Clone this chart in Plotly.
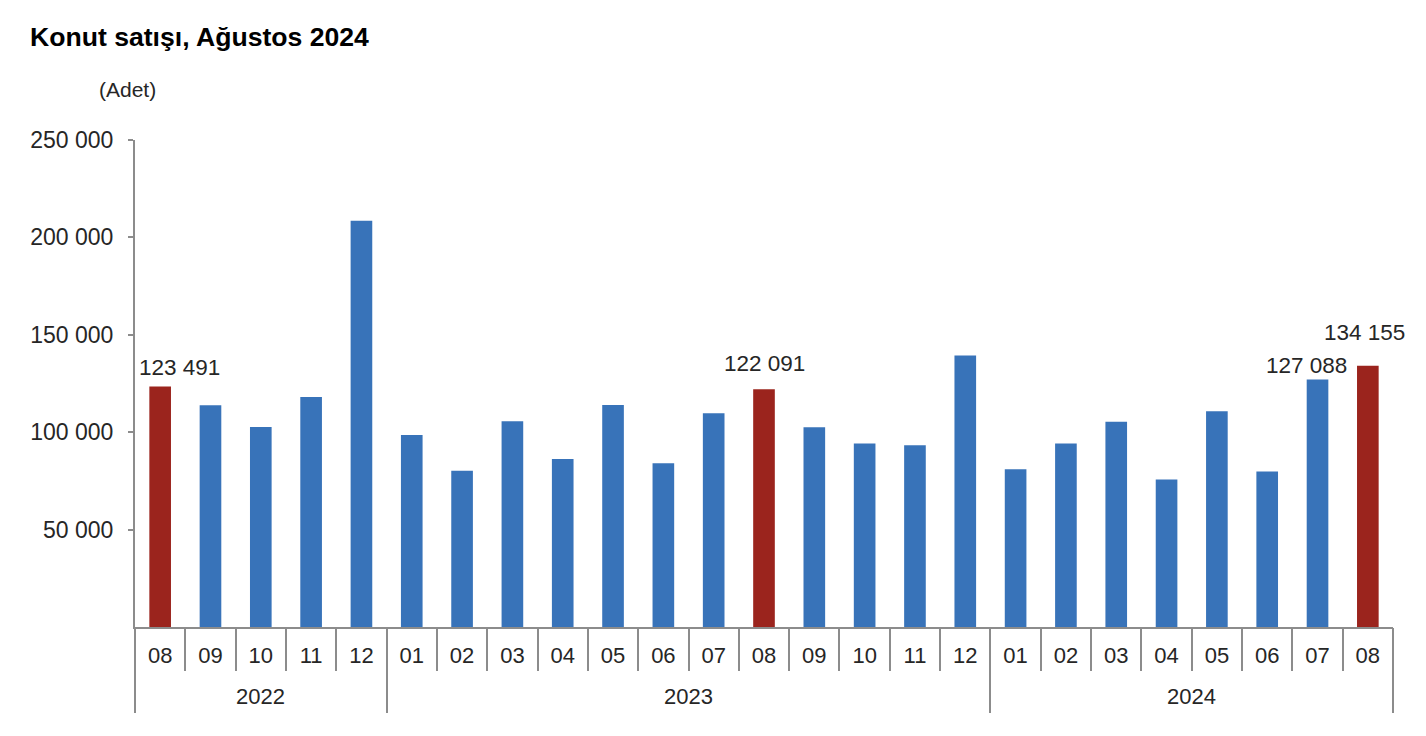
import plotly.graph_objects as go

# ---- data ----
months = ["08", "09", "10", "11", "12",
          "01", "02", "03", "04", "05", "06", "07", "08", "09", "10", "11", "12",
          "01", "02", "03", "04", "05", "06", "07", "08"]
years = ["2022", "2022", "2022", "2022", "2022",
         "2023", "2023", "2023", "2023", "2023", "2023", "2023", "2023", "2023", "2023", "2023", "2023",
         "2024", "2024", "2024", "2024", "2024", "2024", "2024", "2024"]
sales = [123491, 113800, 102700, 118100, 208500,
         98500, 80200, 105600, 86200, 113900, 84100, 109700, 122091, 102600, 94200, 93300, 139400,
         81000, 94200, 105400, 75700, 110700, 79800, 127088, 134155]
labelled = ["2022-08", "2023-08", "2024-07", "2024-08"]
y_ticks = [50000, 100000, 150000, 200000, 250000]

FONT = "Liberation Sans, Arial, sans-serif"
TXT = "#262626"
AX = "#8c8c8c"
BLUE = "#3873b9"
RED = "#9b241d"

cats = [f"{y}-{m}" for y, m in zip(years, months)]
colors = [RED if m == "08" else BLUE for m in months]
n = len(cats)

fig = go.Figure()
fig.add_trace(go.Bar(
    x=cats, y=sales, marker=dict(color=colors, line=dict(width=0)),
    width=0.43, hoverinfo="skip", showlegend=False,
))

# value labels
shifts = {"2022-08": (19, 19), "2023-08": (0, 26), "2024-07": (-11, 14), "2024-08": (-3, 33)}
for c in labelled:
    i = cats.index(c)
    v = sales[i]
    xs, ys = shifts[c]
    fig.add_annotation(x=c, y=v, xref="x", yref="y",
                       text=f"{v:,}".replace(",", " "), showarrow=False,
                       xshift=xs, yshift=ys, yanchor="middle",
                       font=dict(family=FONT, size=22.5, color=TXT))

# year group boundaries and centres
bounds = [-0.5]
centres = []
start = 0
for i in range(1, n + 1):
    if i == n or years[i] != years[i - 1]:
        bounds.append(i - 0.5)
        centres.append(((start + i - 1) / 2, years[start]))
        start = i

for cx, yr in centres:
    fig.add_annotation(x=cx, y=-0.1436, xref="x2", yref="y domain", text=yr,
                       showarrow=False, yanchor="middle",
                       font=dict(family=FONT, size=22, color=TXT))

fig.add_annotation(x=(127 - 135) / 1258, y=(736 - 90 - 109) / 487,
                   xref="paper", yref="paper", text="(Adet)", showarrow=False,
                   xanchor="center", yanchor="middle",
                   font=dict(family=FONT, size=21, color=TXT))

fig.update_layout(
    width=1426, height=736,
    margin=dict(l=135, r=33, t=140, b=109),
    paper_bgcolor="white", plot_bgcolor="white",
    separators=". ",
    title=dict(text="<b>Konut satışı, Ağustos 2024</b>", xref="container", yref="container",
               x=30 / 1426, y=1 - 37 / 736, xanchor="left", yanchor="middle",
               font=dict(family=FONT, size=26.6, color="black")),
    xaxis=dict(type="category", categoryarray=cats, tickvals=cats, ticktext=months,
               range=[-0.5, n - 0.5],
               showline=True, linecolor=AX, linewidth=2,
               ticks="outside", tickson="boundaries", ticklen=42, tickwidth=2, tickcolor=AX,
               ticklabelstandoff=8,
               showgrid=False, zeroline=False,
               tickfont=dict(family=FONT, size=22, color=TXT)),
    xaxis2=dict(overlaying="x", anchor="y", side="bottom", range=[-0.5, n - 0.5],
                tickmode="array", tickvals=bounds, ticks="outside", ticklen=85,
                tickwidth=2, tickcolor=AX, showticklabels=False,
                showgrid=False, zeroline=False, showline=False),
    yaxis=dict(range=[0, 250000], tickvals=y_ticks, tickformat=",d",
               showline=True, linecolor=AX, linewidth=2,
               ticks="outside", ticklen=5, tickwidth=2, tickcolor=AX,
               ticklabelstandoff=10,
               showgrid=False, zeroline=False,
               tickfont=dict(family=FONT, size=23, color=TXT)),
)

fig.write_html("out.html")
